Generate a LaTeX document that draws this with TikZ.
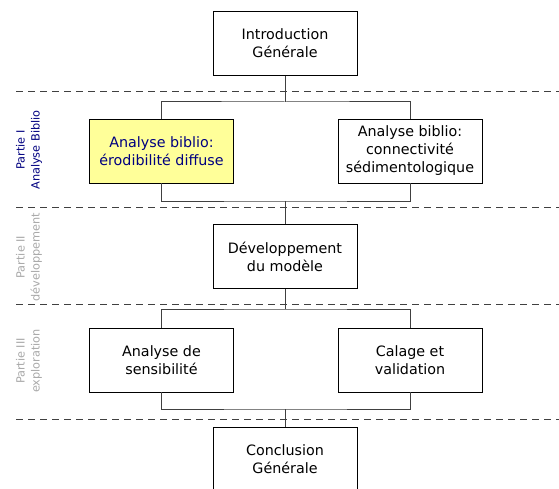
\documentclass[tikz,border=0pt]{standalone}
\usepackage{fontspec}
\setmainfont{DejaVu Sans}
\definecolor{navytext}{HTML}{000080}
\definecolor{parttext}{HTML}{A8A8A8}
\definecolor{boxfill}{HTML}{FFFF99}
\definecolor{linkgray}{HTML}{404040}
\begin{document}
\begin{tikzpicture}[x=1pt,y=-1pt,
  stepbox/.style={draw=black,line width=0.9pt,fill=white,minimum width=144pt,minimum height=64pt,
    align=center,inner sep=2pt,font=\fontsize{14.3}{18}\selectfont},
  link/.style={draw=linkgray,line width=1pt},
  sep/.style={draw=linkgray,line width=0.9pt,dash pattern=on 7pt off 5pt},
  partlabel/.style={rotate=90,align=center,font=\fontsize{11.3}{15}\selectfont}]
\useasboundingbox (0,0) rectangle (559,489);

% separators between the parts
\draw[sep] (16,91) -- (559,91);
\draw[sep] (16,207) -- (559,207);
\draw[sep] (16,304) -- (559,304);
\draw[sep] (16,419) -- (559,419);

% part titles
\node[partlabel,text=navytext] (p1) at (29,150) {Partie I\\Analyse Biblio};
\node[partlabel,text=parttext] (p2) at (29,257) {Partie II\\développement};
\node[partlabel,text=parttext] (p3) at (29,361) {Partie III\\exploration};

% boxes
\node[stepbox] (intro) at (285,43.5) {Introduction\\Générale};
\node[stepbox,fill=boxfill,text=navytext] (biblioA) at (161.5,151) {Analyse biblio:\\érodibilité diffuse};
\node[stepbox] (biblioB) at (410,151) {Analyse biblio:\\connectivité\\sédimentologique};
\node[stepbox] (dev) at (285,256.5) {Développement\\du modèle};
\node[stepbox] (sens) at (161.5,360) {Analyse de\\sensibilité};
\node[stepbox] (calage) at (410,360) {Calage et\\validation};
\node[stepbox] (concl) at (285,459) {Conclusion\\Générale};

% junction points
\coordinate (j1) at (285,102);
\coordinate (j2) at (285,201);
\coordinate (j3) at (285,309);
\coordinate (j4) at (285,409);

% connectors
\draw[link] (intro.south) -- (j1);
\draw[link] (biblioA.north) |- (j1) -| (biblioB.north);
\draw[link] (biblioA.south) |- (j2) -| (biblioB.south);
\draw[link] (j2) -- (dev.north);
\draw[link] (dev.south) -- (j3);
\draw[link] (sens.north) |- (j3) -| (calage.north);
\draw[link] (sens.south) |- (j4) -| (calage.south);
\draw[link] (j4) -- (concl.north);
\end{tikzpicture}
\end{document}
